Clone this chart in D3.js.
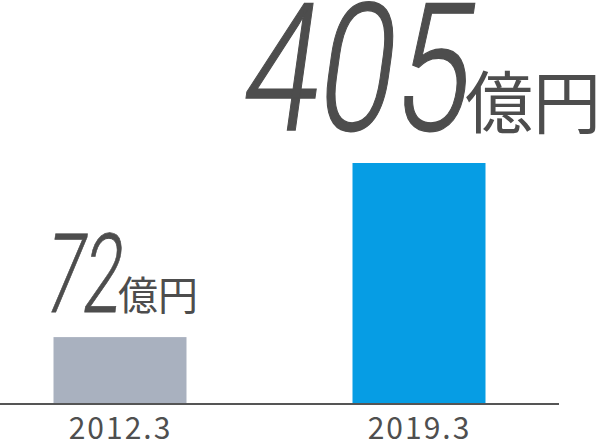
<!DOCTYPE html>
<html><head><meta charset="utf-8">
<script src="https://cdn.jsdelivr.net/npm/d3@7"></script>
<style>html,body{margin:0;padding:0;background:#fff;}svg{display:block;}</style>
</head><body>
<svg id="c" width="600" height="442"></svg>
<script>
const categories = ["2012.3", "2019.3"];
const values = [72, 405];
const unitLabel = "億円";
const barColors = ["#a9b1bf", "#069de4"];

const svg = d3.select("#c");
const baseY = 403.5;

const x = d3.scalePoint().domain(categories).range([120, 419]);
const barW = 133;
const y = d3.scaleLinear().domain([-55, 405]).range([baseY, 163]);

const labelStyle = [
  {num: 110, unit: 40, numW: 76, gap: 25, sw: 0.8},
  {num: 178, unit: 68, numW: 228, gap: 33, sw: 1.3}
];

svg.selectAll("rect.bar").data(values).join("rect")
  .attr("class", "bar")
  .attr("x", (d, i) => x(categories[i]) - barW / 2)
  .attr("width", barW)
  .attr("y", d => y(d))
  .attr("height", d => y(-55) - y(d))
  .attr("fill", (d, i) => barColors[i]);

svg.append("line")
  .attr("x1", 0).attr("x2", 559)
  .attr("y1", baseY + 0.5).attr("y2", baseY + 0.5)
  .attr("stroke", "#555").attr("stroke-width", 2);

const xAxis = d3.axisBottom(x).tickSize(0).tickPadding(0);
const ax = svg.append("g").attr("transform", `translate(0,${baseY})`).call(xAxis);
ax.select(".domain").remove();
ax.selectAll("text")
  .attr("dy", null)
  .attr("y", 35)
  .attr("fill", "#4f4f4f")
  .style("font-family", "'Noto Sans CJK JP','Noto Sans',sans-serif")
  .style("font-size", "30px")
  .style("letter-spacing", "2px");

values.forEach((v, i) => {
  const s = labelStyle[i];
  const total = s.numW + 2 * s.unit;
  const cx = x(categories[i]);
  const by = y(v) - s.gap;
  const left = cx - total / 2;
  const g = svg.append("g").attr("transform", `translate(${left},${by})`);
  g.append("g").attr("transform", "skewX(-8)")
    .append("text")
    .attr("x", 0).attr("y", 0)
    .attr("textLength", s.numW)
    .attr("lengthAdjust", "spacingAndGlyphs")
    .attr("fill", "#4d4d4d")
    .attr("stroke", "#4d4d4d")
    .attr("stroke-width", s.sw)
    .style("font-family", "Roboto, 'DejaVu Sans', sans-serif")
    .style("font-weight", 300)
    .style("font-size", s.num + "px")
    .text(String(v));
  g.append("text")
    .attr("x", s.numW).attr("y", -2)
    .attr("fill", "#4d4d4d")
    .style("font-family", "'Noto Sans CJK JP', sans-serif")
    .style("font-weight", 400)
    .style("font-size", s.unit + "px")
    .text(unitLabel);
});
</script>
</body></html>
